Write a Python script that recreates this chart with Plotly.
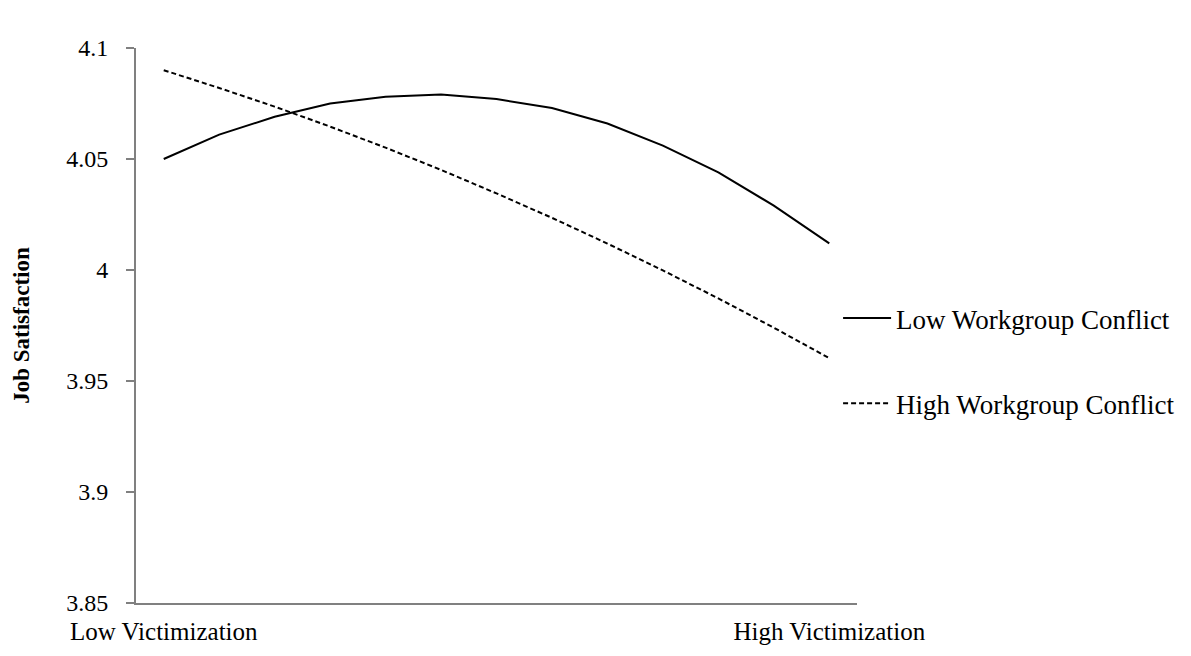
import plotly.graph_objects as go

x_index = list(range(13))
x_tick_vals = [0, 12]
x_tick_text = ["Low Victimization", "High Victimization"]
y_tick_vals = [3.85, 3.9, 3.95, 4.0, 4.05, 4.1]
y_tick_text = ["3.85", "3.9", "3.95", "4", "4.05", "4.1"]

low_conflict = [4.050, 4.061, 4.069, 4.075, 4.078, 4.079, 4.077, 4.073,
                4.066, 4.056, 4.044, 4.029, 4.012]
high_conflict = [4.090, 4.082, 4.0736, 4.0646, 4.0551, 4.0451, 4.0345,
                 4.0235, 4.0119, 3.9998, 3.9872, 3.9740, 3.9603]

FONT = "Liberation Serif, Times New Roman, serif"

# page body has an 8px margin; figure coordinates are offset by it
L, T = 125, 40
PW, PH = 724, 555

fig = go.Figure()
fig.add_trace(go.Scatter(x=x_index, y=low_conflict, mode="lines",
                         name="Low Workgroup Conflict", legendgroup="a",
                         line=dict(color="black", width=2)))
fig.add_trace(go.Scatter(x=x_index, y=high_conflict, mode="lines",
                         name="High Workgroup Conflict", legendgroup="b",
                         line=dict(color="black", width=2, dash="5px,3px")))

gx = (1180 - L) / PW
fig.update_layout(
    width=1191, height=656,
    margin=dict(l=L, r=1191 - L - PW, t=T, b=656 - T - PH),
    paper_bgcolor="white", plot_bgcolor="white",
    font=dict(family=FONT, color="black", size=24),
    showlegend=True,
    legend=dict(x=(838 - L - 8) / PW, xanchor="left", y=0.436, yanchor="middle",
                font=dict(size=27, family=FONT), itemwidth=48,
                tracegroupgap=47, traceorder="grouped",
                bgcolor="rgba(0,0,0,0)"),
    xaxis=dict(range=[-0.5, 12.5], tickmode="array", tickvals=x_tick_vals,
               ticktext=x_tick_text, showgrid=False, zeroline=False,
               showline=True, linecolor="#808080", linewidth=2,
               ticks="outside", ticklen=5, tickcolor="rgba(0,0,0,0)",
               tickfont=dict(size=25, family=FONT)),
    yaxis=dict(range=[3.85, 4.1], tickmode="array", tickvals=y_tick_vals,
               ticktext=y_tick_text, showgrid=False, zeroline=False,
               showline=True, linecolor="#808080", linewidth=2,
               ticks="outside", ticklen=8, tickcolor="#808080", tickwidth=2,
               ticklabelstandoff=13,
               tickfont=dict(size=24, family=FONT),
               title=dict(text="<b>Job Satisfaction</b>", standoff=30,
                          font=dict(size=23, family=FONT))),
    shapes=[
        dict(type="line", xref="paper", yref="paper",
             x0=gx, x1=gx,
             y0=(T + PH + 20) / PH, y1=(T + PH - 272) / PH,
             line=dict(color="#bbbbbb", width=1.5)),
        dict(type="line", xref="paper", yref="paper",
             x0=gx, x1=gx,
             y0=(T + PH - 430) / PH, y1=(T + PH - 680) / PH,
             line=dict(color="#bbbbbb", width=1.5)),
    ],
)

fig.write_html("out.html")
